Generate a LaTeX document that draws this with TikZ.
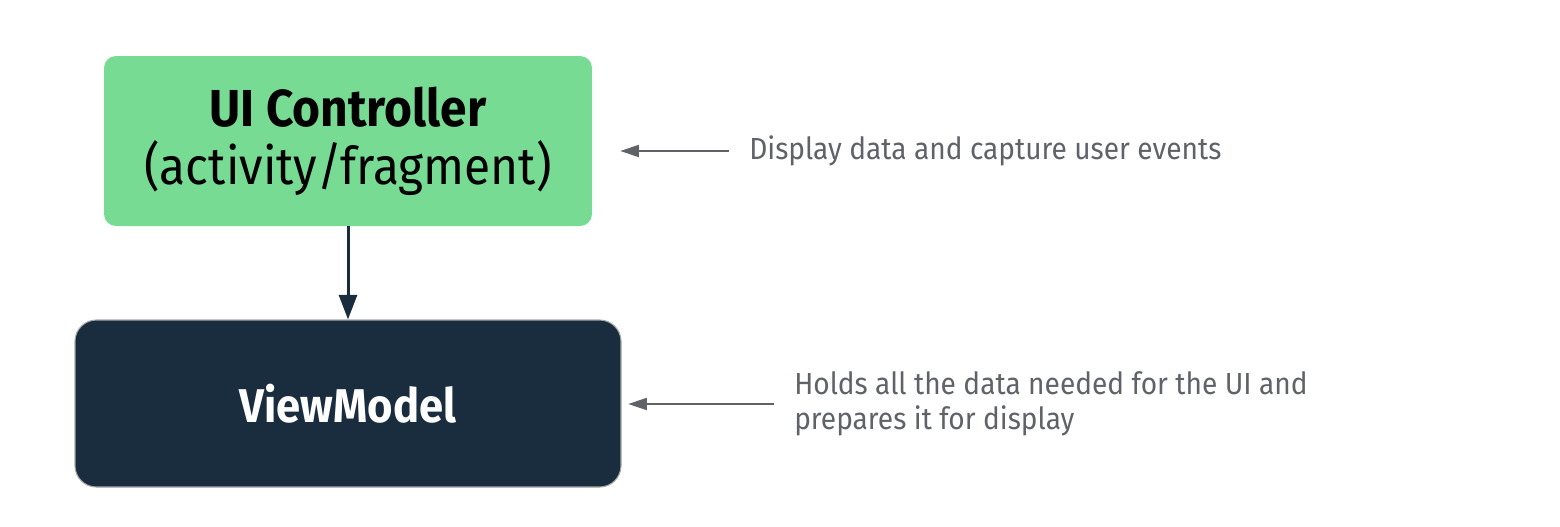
\documentclass[tikz,border=0pt]{standalone}
\usepackage{fontspec}
\setmainfont[FakeStretch=0.92]{Fira Sans}
\usetikzlibrary{arrows.meta}
\definecolor{uigreen}{HTML}{77DB93}
\definecolor{vmdark}{HTML}{1A2D3F}
\definecolor{notegray}{HTML}{5F6368}
\tikzset{
  box/.style={rounded corners=9pt, inner sep=0pt, align=center},
  flowarrow/.style={draw=vmdark, line width=2.25pt, -{Triangle[length=18.5pt,width=13.5pt]}},
  notearrow/.style={draw=notegray, line width=1.5pt, -{Triangle[length=14pt,width=9pt]}},
  notetext/.style={text=notegray, font=\fontsize{22.9}{26.5}\selectfont, align=left, inner sep=0pt, anchor=west}
}
\begin{document}
\begin{tikzpicture}[x=0.75pt,y=-0.75pt]
\useasboundingbox (0,0) rectangle (1560,526);
\node[box, fill=uigreen, minimum width=366pt, minimum height=127.5pt,
      font=\fontsize{39}{43.5}\selectfont] (ui) at (348,141)
  {\textbf{UI Controller}\\(activity/fragment)};
\node[box, fill=vmdark, draw=gray!70, line width=0.8pt, rounded corners=16pt,
      minimum width=409.5pt, minimum height=125.25pt,
      text=white, font=\fontsize{35.5}{40}\selectfont\bfseries] (vm) at (348,403.5)
  {ViewModel};
\node[notetext] (t1) at (749,151) {Display data and capture user events};
\node[notetext] (t2) at (794,404) {Holds all the data needed for the UI and\\prepares it for display};
\draw[flowarrow] (ui.south) -- (vm.north);
\draw[notearrow, shorten <=15pt, shorten >=21pt] (t1.west) -- (t1.west -| ui.east);
\draw[notearrow, shorten <=15pt, shorten >=5pt] (t2.west) -- (t2.west -| vm.east);
\end{tikzpicture}
\end{document}
